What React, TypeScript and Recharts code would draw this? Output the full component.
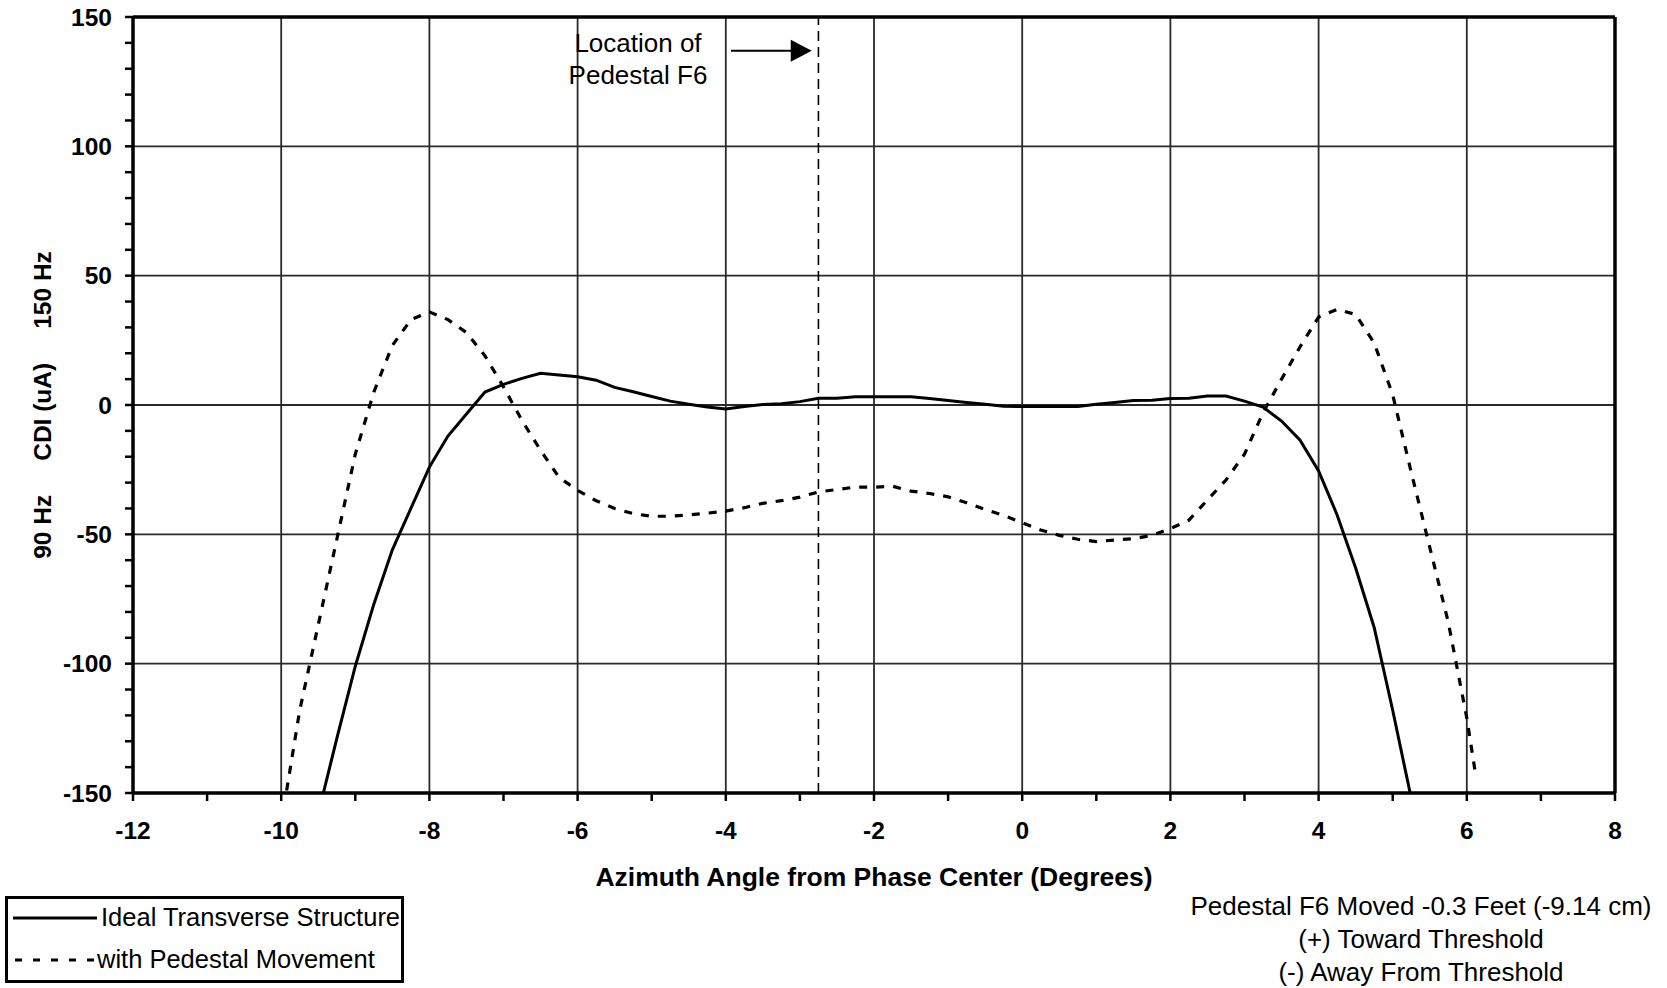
import React from 'react'
import { LineChart, Line, XAxis, YAxis, ReferenceLine } from 'recharts'

// azimuth angle (degrees) and CDI (uA)
const idealAngles = [
  -9.5, -9.25, -9, -8.75, -8.5, -8.25, -8, -7.75, -7.5, -7.25, -7, -6.75, -6.5, -6.25, -6, -5.75,
  -5.5, -5.25, -5, -4.75, -4.5, -4.25, -4, -3.75, -3.5, -3.25, -3, -2.75, -2.5, -2.25, -2, -1.75,
  -1.5, -1.25, -1, -0.75, -0.5, -0.25, 0, 0.25, 0.5, 0.75, 1, 1.25, 1.5, 1.75, 2, 2.25, 2.5, 2.75,
  3, 3.25, 3.5, 3.75, 4, 4.25, 4.5, 4.75, 5, 5.25,
]
const idealCdi = [
  -158, -129, -101, -77, -56, -40, -24, -12, -3.5, 5, 8, 10.3, 12.3, 11.6, 10.9, 9.6,
  6.8, 5.1, 3.3, 1.5, 0.3, -0.8, -1.5, -0.6, 0.2, 0.5, 1.3, 2.6, 2.6, 3.2, 3.2, 3.2,
  3.2, 2.5, 1.7, 1.0, 0.3, -0.5, -0.6, -0.6, -0.6, -0.6, 0.3, 1.0, 1.7, 1.8, 2.5, 2.6, 3.5, 3.5,
  1.5, -0.8, -6.2, -13.6, -25.5, -42.5, -63, -86, -118, -152,
]

const pedestalAngles = [
  -10, -9.75, -9.5, -9.25, -9, -8.75, -8.5, -8.25, -8, -7.75, -7.5, -7.25, -7, -6.75, -6.5, -6.25,
  -6, -5.75, -5.5, -5.25, -5, -4.75, -4.5, -4.25, -4, -3.75, -3.5, -3.25, -3, -2.75, -2.5, -2.25,
  -2, -1.75, -1.5, -1.25, -1, -0.75, -0.5, -0.25, 0, 0.25, 0.5, 0.75, 1, 1.25, 1.5, 1.75,
  2, 2.25, 2.5, 2.75, 3, 3.25, 3.5, 3.75, 4, 4.25, 4.5, 4.75, 5, 5.25, 5.5, 5.75, 6, 6.125,
]
const pedestalCdi = [
  -162, -118, -85, -52, -19, 5, 23, 33, 36, 33, 28, 19, 7, -6, -17.5, -28,
  -33, -37, -40, -42, -43, -43, -42.5, -41.8, -41, -39.7, -38, -37, -35.6, -33.6, -32.7, -31.7,
  -31.8, -31.4, -33.3, -34.2, -35.5, -37.8, -40.4, -42.7, -45.5, -48.3, -50.4, -51.9, -52.8, -52.2, -51.7, -50.4,
  -47.8, -44.5, -36.7, -29, -19, -3, 10, 22.5, 34, 37, 35, 24, 4, -26, -55, -84, -121, -144,
]

const xTicks = [-12, -11, -10, -9, -8, -7, -6, -5, -4, -3, -2, -1, 0, 1, 2, 3, 4, 5, 6, 7, 8]
const yTicks = [
  -150, -140, -130, -120, -110, -100, -90, -80, -70, -60, -50, -40, -30, -20, -10, 0,
  10, 20, 30, 40, 50, 60, 70, 80, 90, 100, 110, 120, 130, 140, 150,
]
const xGrid = [-10, -8, -6, -4, -2, 0, 2, 4, 6]
const yGrid = [-100, -50, 0, 50, 100]

const pedestalLocation = -2.75
const arrowFrom = { x: -3.93, y: 137 }
const arrowTo = { x: -2.84, y: 137 }

const idealData = idealAngles.map((a, i) => ({ angle: a, cdi: idealCdi[i] }))
const pedestalData = pedestalAngles.map((a, i) => ({ angle: a, cdi: pedestalCdi[i] }))

const FONT = 'Arial, "Liberation Sans", sans-serif'

const ArrowNote = (props: any) => {
  const { x1, y1, x2, y2 } = props
  return (
    <g>
      <line x1={x1} y1={y1} x2={x2 - 18} y2={y2} stroke="#000" strokeWidth={2} />
      <polygon points={`${x2},${y2} ${x2 - 21},${y2 - 11} ${x2 - 21},${y2 + 11}`} fill="#000" />
      <text x={x1 - 93} y={y1 + 1} textAnchor="middle" fontFamily={FONT} fontSize={26} fill="#000">
        Location of
      </text>
      <text x={x1 - 93} y={y1 + 33} textAnchor="middle" fontFamily={FONT} fontSize={26} fill="#000">
        Pedestal F6
      </text>
    </g>
  )
}

const YTitle = (props: any) => {
  const { viewBox } = props
  const cx = viewBox.x + 42
  const cy = viewBox.y + viewBox.height / 2
  return (
    <text
      x={cx}
      y={cy}
      transform={`rotate(-90 ${cx} ${cy})`}
      textAnchor="middle"
      dominantBaseline="central"
      fontFamily={FONT}
      fontWeight="bold"
      fontSize={24.5}
      fill="#000"
      style={{ whiteSpace: 'pre' }}
    >
      {'90 Hz     CDI (uA)     150 Hz'}
    </text>
  )
}

export default function App() {
  return (
    <div style={{ position: 'absolute', left: 0, top: 0, width: 1667, height: 988, background: '#fff' }}>
      <LineChart
        width={1667}
        height={988}
        margin={{ top: 17, right: 52, left: 0, bottom: 95 }}
        style={{ fontFamily: FONT }}
      >
        <XAxis
          type="number"
          dataKey="angle"
          domain={[-12, 8]}
          ticks={xTicks}
          interval={0}
          allowDataOverflow
          height={100}
          tickSize={8}
          tickMargin={21}
          tickFormatter={(v: number) => (v % 2 === 0 ? String(v) : '')}
          axisLine={{ stroke: '#000', strokeWidth: 3.5 }}
          tickLine={{ stroke: '#000', strokeWidth: 2.5 }}
          tick={{ fill: '#000', fontSize: 24.5, fontWeight: 'bold' }}
          label={{
            value: 'Azimuth Angle from Phase Center (Degrees)',
            position: 'insideBottom',
            offset: 7,
            fill: '#000',
            fontSize: 26.5,
            fontWeight: 'bold',
          }}
        />
        <YAxis
          type="number"
          domain={[-150, 150]}
          ticks={yTicks}
          interval={0}
          allowDataOverflow
          width={133}
          tickSize={8}
          tickMargin={13}
          tickFormatter={(v: number) => (v % 50 === 0 ? String(v) : '')}
          axisLine={{ stroke: '#000', strokeWidth: 3.5 }}
          tickLine={{ stroke: '#000', strokeWidth: 2.5 }}
          tick={{ fill: '#000', fontSize: 24.5, fontWeight: 'bold' }}
          label={<YTitle />}
        />
        {xGrid.map((v) => (
          <ReferenceLine key={'gx' + v} x={v} stroke="#2a2a2a" strokeWidth={1.8} />
        ))}
        {yGrid.map((v) => (
          <ReferenceLine key={'gy' + v} y={v} stroke="#2a2a2a" strokeWidth={1.8} />
        ))}
        <ReferenceLine y={150} stroke="#000" strokeWidth={3.5} />
        <ReferenceLine x={8} stroke="#000" strokeWidth={3.5} />
        <ReferenceLine x={pedestalLocation} stroke="#000" strokeWidth={1.6} strokeDasharray="10 6" />
        <ReferenceLine
          segment={[arrowFrom, arrowTo]}
          shape={(p: any) => <ArrowNote {...p} />}
        />
        <Line
          data={idealData}
          dataKey="cdi"
          type="linear"
          stroke="#000"
          strokeWidth={3}
          dot={false}
          activeDot={false}
          isAnimationActive={false}
        />
        <Line
          data={pedestalData}
          dataKey="cdi"
          type="linear"
          stroke="#000"
          strokeWidth={3.2}
          strokeDasharray="8 9"
          dot={false}
          activeDot={false}
          isAnimationActive={false}
        />
      </LineChart>

      <div
        style={{
          position: 'absolute',
          left: 5,
          top: 896,
          width: 393,
          height: 81,
          border: '3px solid #000',
          fontFamily: FONT,
          fontSize: 25.5,
          color: '#000',
        }}
      >
        <div style={{ position: 'absolute', left: 3, top: 4, display: 'flex', alignItems: 'center', whiteSpace: 'nowrap' }}>
          <svg width={88} height={28}>
            <line x1={2} y1={14} x2={86} y2={14} stroke="#000" strokeWidth={3} />
          </svg>
          <span style={{ marginLeft: 2 }}>Ideal Transverse Structure</span>
        </div>
        <div style={{ position: 'absolute', left: 3, top: 46, display: 'flex', alignItems: 'center', whiteSpace: 'nowrap' }}>
          <svg width={88} height={28}>
            <line x1={4} y1={14} x2={86} y2={14} stroke="#000" strokeWidth={3.2} strokeDasharray="7 11" />
          </svg>
          <span style={{ marginLeft: -2 }}>with Pedestal Movement</span>
        </div>
      </div>

      <div
        style={{
          position: 'absolute',
          left: 1160,
          top: 890,
          width: 522,
          textAlign: 'center',
          fontFamily: FONT,
          fontSize: 26,
          lineHeight: '33px',
          color: '#000',
          whiteSpace: 'nowrap',
        }}
      >
        <div>Pedestal F6 Moved -0.3 Feet (-9.14 cm)</div>
        <div>(+) Toward Threshold</div>
        <div>(-) Away From Threshold</div>
      </div>
    </div>
  )
}
